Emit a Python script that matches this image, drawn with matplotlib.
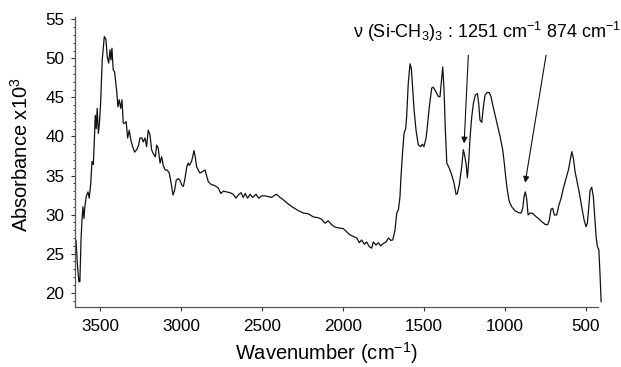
import numpy as np
import matplotlib
matplotlib.use("Agg")
import matplotlib.pyplot as plt
from matplotlib.ticker import MultipleLocator

plt.rcParams['font.family'] = ['Liberation Sans', 'DejaVu Sans']
plt.rcParams['mathtext.fontset'] = 'custom'
plt.rcParams['mathtext.rm'] = 'Liberation Sans'
plt.rcParams['mathtext.it'] = 'Liberation Sans:italic'
plt.rcParams['mathtext.bf'] = 'Liberation Sans:bold'

# FTIR spectrum (wavenumber cm-1, absorbance x1e3)
wavenumber = [
    3648, 3640, 3630, 3624, 3617, 3611, 3605, 3599, 3593, 3585, 3574, 3566,
    3557, 3549, 3541, 3535, 3529, 3523, 3517, 3510, 3504, 3496, 3486, 3473,
    3463, 3455, 3446, 3438, 3432, 3426, 3418, 3410, 3397, 3389, 3381, 3372,
    3364, 3356, 3346, 3338, 3329, 3319, 3309, 3298, 3286, 3273, 3261, 3253,
    3241, 3233, 3222, 3212, 3202, 3191, 3181, 3171, 3158, 3150, 3140, 3129,
    3119, 3109, 3097, 3084, 3072, 3060, 3049, 3039, 3029, 3016, 3006, 2995,
    2985, 2975, 2964, 2955, 2948, 2934, 2919, 2911, 2903, 2882, 2868, 2851,
    2831, 2810, 2800, 2783, 2769, 2754, 2738, 2717, 2697, 2677, 2660, 2646,
    2629, 2615, 2603, 2588, 2573, 2557, 2536, 2520, 2501, 2481, 2460, 2440,
    2419, 2409, 2388, 2368, 2337, 2306, 2275, 2244, 2213, 2182, 2152, 2131,
    2110, 2090, 2069, 2048, 2028, 1997, 1976, 1956, 1935, 1914, 1898, 1884,
    1867, 1853, 1837, 1822, 1812, 1795, 1781, 1766, 1750, 1733, 1719, 1704,
    1692, 1678, 1667, 1657, 1647, 1641, 1630, 1622, 1612, 1606, 1596, 1585,
    1577, 1568, 1560, 1548, 1534, 1519, 1509, 1499, 1486, 1476, 1466, 1451,
    1441, 1425, 1410, 1400, 1389, 1383, 1375, 1367, 1358, 1342, 1328, 1313,
    1301, 1293, 1281, 1266, 1256, 1248, 1239, 1231, 1222, 1214, 1204, 1194,
    1182, 1169, 1161, 1153, 1142, 1132, 1122, 1108, 1095, 1085, 1074, 1060,
    1046, 1029, 1013, 1003, 992, 984, 972, 957, 937, 916, 899, 889,
    881, 873, 864, 856, 844, 827, 813, 793, 772, 751, 735, 725,
    714, 704, 694, 679, 667, 652, 638, 622, 607, 597, 586, 576,
    566, 555, 539, 525, 510, 498, 490, 481, 473, 463, 453, 444,
    436, 428, 419, 411, 405,
]
absorbance = [
    26.7, 23.8, 21.4, 21.4, 26.7, 29.3, 31.0, 29.5, 31.0, 32.3, 32.9, 32.1,
    34.0, 36.8, 36.4, 39.3, 42.7, 41.0, 43.6, 40.4, 41.5, 44.2, 49.8, 52.8,
    52.4, 50.2, 49.4, 51.1, 49.8, 51.3, 48.5, 48.3, 45.9, 43.8, 44.7, 43.6,
    44.7, 41.7, 41.7, 41.9, 39.8, 40.8, 39.5, 38.7, 38.0, 38.3, 38.9, 39.8,
    39.8, 39.3, 39.8, 38.7, 40.8, 40.2, 38.3, 37.8, 37.4, 38.9, 38.5, 36.6,
    37.4, 36.3, 35.7, 35.7, 35.3, 34.0, 32.5, 33.1, 34.4, 34.6, 34.4, 33.8,
    33.6, 34.6, 36.1, 36.6, 36.3, 36.8, 38.2, 37.3, 36.1, 35.3, 35.5, 35.7,
    34.2, 33.8, 33.8, 33.6, 33.4, 32.7, 33.0, 32.9, 32.8, 32.6, 32.1, 32.5,
    32.8, 32.2, 32.7, 32.1, 32.6, 32.2, 32.6, 32.1, 32.4, 32.4, 32.3, 32.2,
    32.5, 32.6, 32.2, 31.9, 31.35, 30.9, 30.5, 30.2, 30.1, 29.7, 29.6, 29.4,
    28.9, 29.2, 28.7, 28.4, 28.3, 28.2, 27.8, 27.4, 27.2, 27.0, 26.4, 26.75,
    26.2, 26.5, 25.9, 25.7, 26.5, 26.1, 26.4, 26.0, 26.3, 26.5, 27.0, 26.7,
    26.75, 28.0, 30.2, 30.6, 32.3, 34.85, 38.3, 40.4, 41.0, 42.5, 46.8, 49.3,
    48.7, 45.9, 43.4, 40.8, 38.9, 38.7, 39.0, 38.7, 39.8, 41.7, 43.8, 46.2,
    46.3, 45.7, 45.1, 45.1, 47.65, 48.9, 45.9, 40.8, 36.6, 35.9, 35.1, 34.0,
    32.6, 32.7, 33.8, 36.1, 38.3, 37.6, 36.5, 34.7, 37.0, 40.0, 42.5, 44.2,
    45.3, 45.5, 44.2, 42.1, 41.8, 43.8, 45.3, 45.65, 45.6, 45.1, 44.0, 42.75,
    41.5, 40.0, 38.3, 36.6, 34.4, 33.1, 31.65, 31.0, 30.5, 30.25, 30.2, 30.8,
    32.3, 32.9, 31.9, 29.95, 30.2, 30.15, 29.85, 29.5, 29.1, 28.75, 28.7, 29.3,
    30.7, 30.8, 29.95, 29.95, 31.1, 32.1, 33.4, 34.6, 35.7, 36.8, 38.05, 37.2,
    35.5, 34.4, 32.7, 31.0, 29.3, 28.45, 28.9, 31.0, 33.1, 33.5, 32.3, 29.7,
    27.2, 25.9, 25.5, 22.0, 18.85,
]

# marked Si-CH3 bands and where their arrows start
marked_bands = [1251, 874]
arrow_tails = [(1225, 50.4), (745, 50.4)]
label_text = r'ν (Si-CH$_3$)$_3$ : 1251 cm$^{-1}$ 874 cm$^{-1}$'

fig = plt.figure(figsize=(6.21, 3.67), dpi=100)
ax = fig.add_axes([0.1208, 0.1635, 0.8417, 0.791])

ax.plot(wavenumber, absorbance, color='#111111', linewidth=0.9, clip_on=False)

ax.set_xlim(3654, 426)
ax.set_ylim(18.17, 55.33)
ax.xaxis.set_major_locator(MultipleLocator(500))
ax.yaxis.set_major_locator(MultipleLocator(5))
ax.yaxis.set_minor_locator(MultipleLocator(1))
ax.tick_params(axis='both', which='major', direction='out', length=3,
               width=0.8, labelsize=12.3, color='#333333')
ax.tick_params(axis='y', which='minor', direction='out', length=1.8,
               width=0.7, color='#333333')
ax.tick_params(axis='x', pad=6)
ax.tick_params(axis='y', pad=4.5)

for side in ['top', 'right']:
    ax.spines[side].set_visible(False)
for side in ['left', 'bottom']:
    ax.spines[side].set_color('#555555')
    ax.spines[side].set_linewidth(0.9)

ax.set_xlabel('Wavenumber (cm$^{-1}$)', fontsize=14.5)
ax.set_ylabel('Absorbance x10$^3$', fontsize=14.5)
ax.xaxis.set_label_coords(0.482, -0.115)
ax.yaxis.set_label_coords(-0.082, 0.524)

for band, tail in zip(marked_bands, arrow_tails):
    tip_y = np.interp(band, wavenumber[::-1], absorbance[::-1]) + 1.25
    ax.annotate('', xy=(band, tip_y), xytext=tail,
                arrowprops=dict(arrowstyle='-|>', color='#111111', lw=0.8,
                                mutation_scale=9, shrinkA=0, shrinkB=0))

fig.text(0.568, 0.896, label_text, fontsize=13, va='baseline', ha='left')

fig.savefig('out.png', dpi=100)
